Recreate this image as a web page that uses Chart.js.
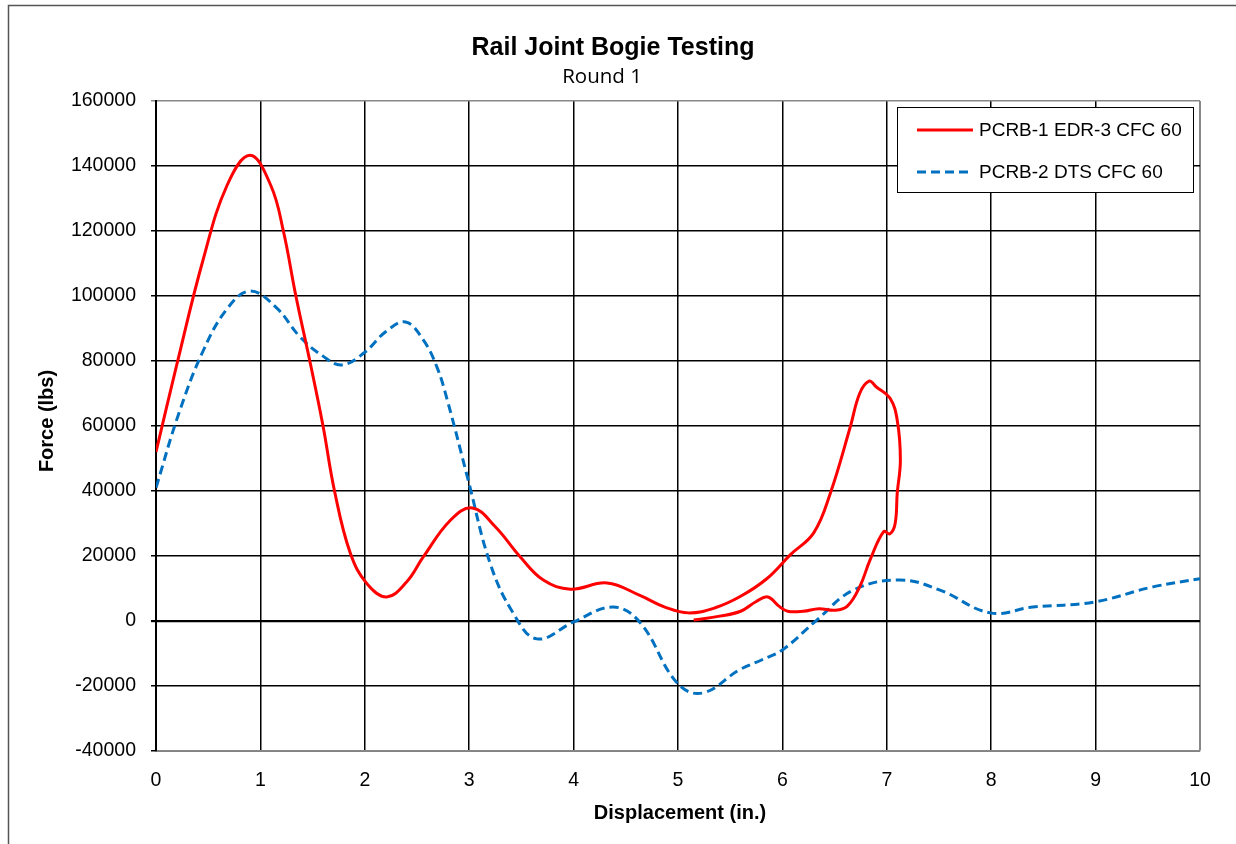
<!DOCTYPE html>
<html>
<head>
<meta charset="utf-8">
<script src="https://cdn.jsdelivr.net/npm/chart.js@4/dist/chart.umd.min.js"></script>
<style>
  html, body { margin: 0; padding: 0; background: #fff; }
  canvas { display: block; }
</style>
</head>
<body>
<canvas id="c" width="1236" height="844"></canvas>
<script>
// ---- Data ----
const titleText = "Rail Joint Bogie Testing";
const subtitleText = "Round 1";
const xAxisTitle = "Displacement (in.)";
const yAxisTitle = "Force (lbs)";
const seriesNames = ["PCRB-1 EDR-3 CFC 60", "PCRB-2 DTS CFC 60"];

const redX = [0, 0.2, 0.45, 0.68, 0.9, 1.1, 1.22, 1.34, 1.48, 1.6, 1.71, 1.86, 2.02, 2.21, 2.4, 2.56, 2.82, 3.03, 3.25, 3.49, 3.71, 3.97, 4.32, 4.64, 4.88, 5.1, 5.35, 5.6, 5.85, 6.08, 6.3, 6.46, 6.65, 6.74, 6.83, 6.9, 7.03, 7.1, 7.13, 7.1, 7.08, 7.03, 6.97, 6.84, 6.74, 6.62, 6.5, 6.35, 6.2, 6.05, 5.97, 5.86, 5.75, 5.6, 5.4, 5.15];
const redY = [52000, 79000, 111000, 134000, 143300, 134000, 120000, 100000, 79000, 60000, 40000, 21000, 11500, 7400, 12000, 19700, 31000, 34800, 29000, 19700, 12600, 9800, 11700, 7800, 4200, 2500, 4000, 7600, 13000, 20500, 27100, 39400, 59700, 70000, 73800, 72000, 68600, 61800, 49500, 39400, 30000, 26800, 27500, 18800, 10500, 4500, 3300, 3800, 3000, 3000, 4500, 7400, 6000, 3000, 1500, 300];

const blueX = [0, 0.22, 0.45, 0.68, 0.9, 1.15, 1.38, 1.6, 1.78, 2.0, 2.2, 2.39, 2.56, 2.69, 2.79, 2.99, 3.2, 3.42, 3.65, 4.0, 4.38, 4.64, 4.99, 5.23, 5.59, 5.8, 6.0, 6.33, 6.68, 7.13, 7.51, 7.99, 8.4, 8.98, 9.55, 10];
const blueY = [41000, 64000, 83000, 96000, 101500, 96500, 87400, 81500, 78800, 82700, 89000, 92000, 86500, 78200, 68000, 43400, 17800, 2500, -5500, -300, 4300, -600, -19000, -22200, -15000, -12000, -8900, 300, 9500, 12600, 9500, 2500, 4300, 5800, 10500, 13000];

const xMin = 0, xMax = 10, xStep = 1;
const yMin = -40000, yMax = 160000, yStep = 20000;

const redColor = "#ff0000";
const blueColor = "#0070c0";

const toPoints = (xs, ys) => xs.map((x, i) => ({ x: x, y: ys[i] }));

const decorPlugin = {
  id: "decor",
  beforeDraw(chart) {
    const ctx = chart.ctx;
    ctx.save();
    ctx.fillStyle = "#fff";
    ctx.fillRect(0, 0, chart.width, chart.height);
    ctx.strokeStyle = "#555";
    ctx.lineWidth = 1.5;
    ctx.strokeRect(8.5, 5.5, 1400, 1000);
    ctx.restore();
  },
  afterDraw(chart) {
    const ctx = chart.ctx;
    ctx.save();
    ctx.fillStyle = "#000";
    ctx.textAlign = "center";
    ctx.textBaseline = "middle";
    ctx.font = 'bold 25px "Liberation Sans", Arial, sans-serif';
    ctx.fillText(titleText, 613, 48);
    ctx.font = '20.5px "Open Sans", sans-serif';
    ctx.fillText(subtitleText, 602, 77);
    ctx.font = 'bold 20px "Liberation Sans", Arial, sans-serif';
    ctx.fillText(xAxisTitle, 680, 813);
    ctx.save();
    ctx.translate(47, 421);
    ctx.rotate(-Math.PI / 2);
    ctx.fillText(yAxisTitle, 0, 0);
    ctx.restore();

    // legend
    ctx.fillStyle = "#fff";
    ctx.fillRect(897.5, 107.5, 296, 85);
    ctx.strokeStyle = "#000";
    ctx.lineWidth = 1;
    ctx.strokeRect(897.5, 107.5, 296, 85);
    const ds = chart.data.datasets;
    const rows = [130, 172];
    ctx.font = '19px "Liberation Sans", Arial, sans-serif';
    ctx.textAlign = "left";
    rows.forEach((y, i) => {
      ctx.beginPath();
      ctx.strokeStyle = ds[i].borderColor;
      ctx.lineWidth = 3;
      ctx.setLineDash(ds[i].borderDash || []);
      ctx.moveTo(917, y);
      ctx.lineTo(973, y);
      ctx.stroke();
      ctx.setLineDash([]);
      ctx.fillStyle = "#000";
      ctx.fillText(ds[i].label, 979, y + 1);
    });
    ctx.restore();
  }
};

new Chart(document.getElementById("c"), {
  type: "scatter",
  data: {
    datasets: [
      {
        label: seriesNames[0],
        data: toPoints(redX, redY),
        showLine: true,
        borderColor: redColor,
        borderWidth: 3,
        pointRadius: 0,
        tension: 0.4,
        fill: false
      },
      {
        label: seriesNames[1],
        data: toPoints(blueX, blueY),
        showLine: true,
        borderColor: blueColor,
        borderWidth: 3,
        borderDash: [9, 5],
        pointRadius: 0,
        tension: 0.4,
        fill: false
      }
    ]
  },
  options: {
    responsive: false,
    animation: false,
    layout: { padding: { left: 0, top: 101, right: 36, bottom: 0 } },
    plugins: {
      legend: { display: false },
      title: { display: false },
      tooltip: { enabled: false }
    },
    scales: {
      x: {
        type: "linear",
        min: xMin, max: xMax,
        afterFit(scale) { scale.height = 844 - 751; },
        ticks: {
          stepSize: xStep,
          color: "#000",
          font: { family: '"Liberation Sans", Arial, sans-serif', size: 19.5 },
          padding: 18,
          maxRotation: 0,
          callback: v => String(v)
        },
        grid: {
          drawTicks: false,
          color: ctx => (ctx.tick && ctx.tick.value === xMax) ? "#888" : "#000",
          lineWidth: ctx => (ctx.tick && ctx.tick.value === xMax) ? 2 : 1.5
        },
        border: { color: "#888", width: 1.5 }
      },
      y: {
        type: "linear",
        min: yMin, max: yMax,
        afterFit(scale) { scale.width = 156; },
        ticks: {
          stepSize: yStep,
          color: "#000",
          font: { family: '"Liberation Sans", Arial, sans-serif', size: 19.5 },
          padding: 15,
          callback: v => String(v)
        },
        grid: {
          tickLength: 5,
          color: ctx => {
            if (!ctx.tick) return "#000";
            if (ctx.tick.value === yMax) return "#888";
            return "#000";
          },
          lineWidth: ctx => (ctx.tick && ctx.tick.value === 0) ? 2.2 : 1.5
        },
        border: { color: "#000", width: 2 }
      }
    }
  },
  plugins: [decorPlugin]
});
</script>
</body>
</html>
